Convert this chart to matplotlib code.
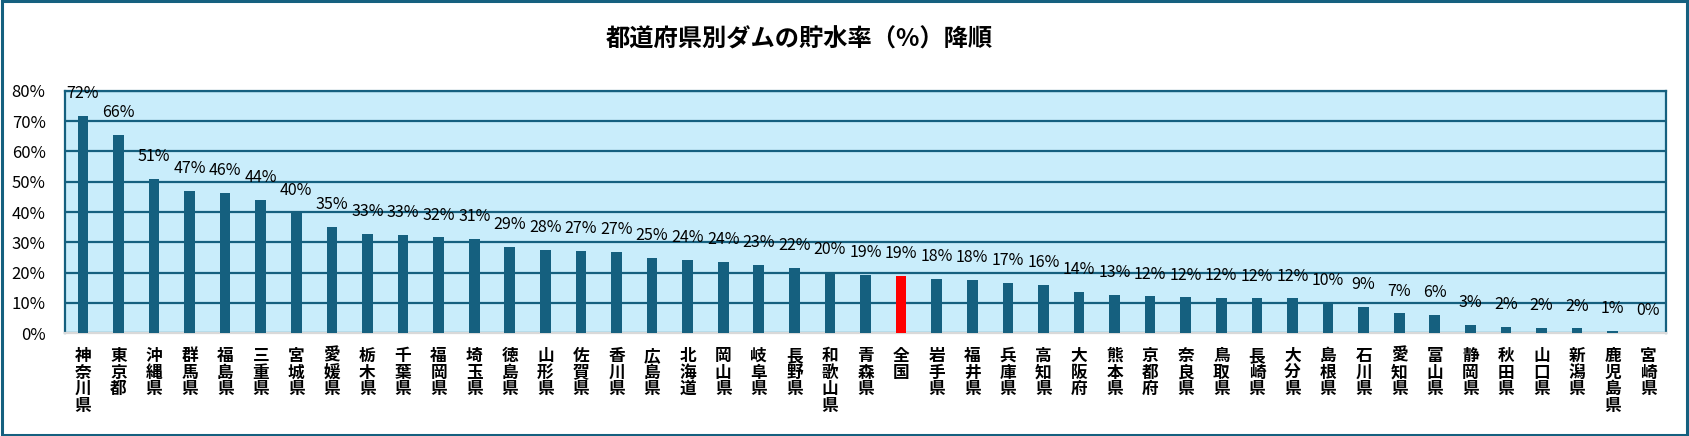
import numpy as np
import matplotlib.pyplot as plt
from matplotlib.patches import Rectangle

plt.rcParams['font.family'] = ['Noto Sans CJK JP', 'DejaVu Sans']

# 都道府県と貯水率（%）
prefs = ['神奈川県', '東京都', '沖縄県', '群馬県', '福島県', '三重県', '宮城県', '愛媛県',
         '栃木県', '千葉県', '福岡県', '埼玉県', '徳島県', '山形県', '佐賀県', '香川県',
         '広島県', '北海道', '岡山県', '岐阜県', '長野県', '和歌山県', '青森県', '全国',
         '岩手県', '福井県', '兵庫県', '高知県', '大阪府', '熊本県', '京都府', '奈良県',
         '鳥取県', '長崎県', '大分県', '島根県', '石川県', '愛知県', '富山県', '静岡県',
         '秋田県', '山口県', '新潟県', '鹿児島県', '宮崎県']
rates = [71.7, 65.5, 50.9, 46.9, 46.3, 44.0, 39.9, 35.0,
         32.7, 32.4, 31.6, 31.1, 28.5, 27.5, 27.1, 26.8,
         24.8, 24.1, 23.5, 22.5, 21.5, 20.2, 19.2, 18.8,
         17.8, 17.5, 16.5, 15.9, 13.6, 12.5, 12.1, 11.8,
         11.6, 11.5, 11.5, 9.9, 8.6, 6.5, 6.0, 2.7,
         2.0, 1.7, 1.5, 0.8, 0.0]
labels = ['72%', '66%', '51%', '47%', '46%', '44%', '40%', '35%',
          '33%', '33%', '32%', '31%', '29%', '28%', '27%', '27%',
          '25%', '24%', '24%', '23%', '22%', '20%', '19%', '19%',
          '18%', '18%', '17%', '16%', '14%', '13%', '12%', '12%',
          '12%', '12%', '12%', '10%', '9%', '7%', '6%', '3%',
          '2%', '2%', '2%', '1%', '0%']

navy = '#15607f'
colors = ['#ff0000' if p == '全国' else navy for p in prefs]

fig = plt.figure(figsize=(16.9, 4.36), dpi=100)
fig.patches.append(Rectangle((0.001, 0.002), 0.997, 0.995, transform=fig.transFigure,
                             fill=False, edgecolor=navy, linewidth=2.2))

ax = fig.add_axes([0.0385, 0.2362, 0.9473, 0.5551])
ax.set_facecolor('#c9edfb')
x = np.arange(len(prefs))
ax.bar(x, rates, width=0.3, color=colors, zorder=3)

for xi, r, lab in zip(x, rates, labels):
    ax.annotate(lab, (xi, r), xytext=(0, 16), textcoords='offset points',
                ha='center', va='center', fontsize=11.5, zorder=4)

ax.set_ylim(0, 80)
ax.set_xlim(-0.5, len(prefs) - 0.5)
ax.set_yticks(np.arange(0, 81, 10))
ax.set_yticklabels([f'{v}%' for v in range(0, 81, 10)], fontsize=12)
ax.yaxis.grid(True, color=navy, linewidth=1.6, zorder=1)
ax.set_axisbelow(True)

ax.set_xticks(x)
ax.set_xticklabels(['\n'.join(p) for p in prefs], fontsize=12, fontweight='bold',
                   linespacing=0.9, va='top')
ax.tick_params(axis='both', length=0)
ax.tick_params(axis='x', pad=10)
ax.tick_params(axis='y', pad=14)

for side in ['left', 'top', 'right']:
    ax.spines[side].set_color(navy)
    ax.spines[side].set_linewidth(1.6)
ax.spines['bottom'].set_color('#d9d9d9')
ax.spines['bottom'].set_linewidth(1.6)

fig.text(0.473, 0.91, '都道府県別ダムの貯水率（%）降順', ha='center', va='center',
         fontsize=17.5, fontweight='bold')

fig.savefig('out.png', dpi=100)
